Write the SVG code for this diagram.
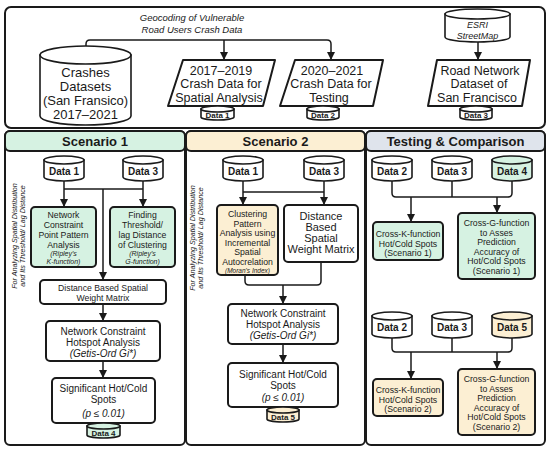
<svg xmlns="http://www.w3.org/2000/svg" width="550" height="450" viewBox="0 0 550 450">
<style>
text{font-family:"Liberation Sans",Arial,sans-serif;fill:#1a1a1a;text-anchor:middle}
.panel{fill:#fff;stroke:#1a1a1a;stroke-width:2}
.box{fill:#fff;stroke:#1a1a1a;stroke-width:2}
.g{fill:#d6f2e2}
.o{fill:#fcefd3}
.gr{fill:#dfe4ec}
.cyl{stroke:#1a1a1a;stroke-width:1.6}
.w{fill:#fff}
.con{fill:none;stroke:#1a1a1a;stroke-width:1.5}
.arr{marker-end:url(#ah)}
.hd{font-weight:bold;font-size:13px}
.dl{font-weight:bold;font-size:10px}
.ds{font-weight:bold;font-size:8px}
.t13{font-size:13px}
.t12{font-size:12.5px}
.t11{font-size:11px}
.t10{font-size:10px}
.t9{font-size:8.7px}
.it{font-style:italic}
.sm{font-size:7px;font-style:italic}
.vt{font-size:7.2px;font-style:italic}
</style>
<defs>
<marker id="ah" viewBox="0 0 10 10" refX="10" refY="5" markerWidth="8" markerHeight="9" markerUnits="userSpaceOnUse" orient="auto">
<path d="M0,0 L10,5 L0,10 z" fill="#1a1a1a"/>
</marker>
</defs>

<!-- panels -->
<g id="top-panel"><rect class="panel" x="5" y="7" width="540" height="121" rx="6"/></g>
<g id="scenario1-panel">
<rect class="panel" x="5" y="131" width="180" height="314" rx="5"/>
<rect class="panel g" x="5" y="131" width="180" height="20" rx="5"/>
<text class="hd" x="95" y="146">Scenario 1</text>
</g>
<g id="scenario2-panel">
<rect class="panel" x="186" y="131" width="179" height="314" rx="5"/>
<rect class="panel o" x="186" y="131" width="179" height="20" rx="5"/>
<text class="hd" x="275.5" y="146">Scenario 2</text>
</g>
<g id="testing-panel">
<rect class="panel" x="366" y="131" width="179" height="314" rx="5"/>
<rect class="panel gr" x="366" y="131" width="179" height="20" rx="5"/>
<text class="hd" x="455.5" y="146">Testing &amp; Comparison</text>
</g>

<!-- connectors -->
<g id="connectors">
<path class="con" d="M86,47 V44 Q86,40 90,40 H327 Q331,40 331,44 V60" marker-end="url(#ah)"/>
<path class="con arr" d="M224,40 V60"/>
<path class="con arr" d="M478,42 V60"/>
<!-- scenario 1 -->
<path class="con" d="M64,189 H143"/>
<path class="con arr" d="M64,181 V207"/>
<path class="con arr" d="M143,181 V207"/>
<path class="con arr" d="M103,189 V280"/>
<path class="con arr" d="M103,304 V321"/>
<path class="con arr" d="M103,361 V378"/>
<!-- scenario 2 -->
<path class="con" d="M243,192 H324"/>
<path class="con arr" d="M243,181 V205"/>
<path class="con arr" d="M324,181 V205"/>
<path class="con" d="M245,275 V281 Q245,285 249,285 H317 Q321,285 321,281 V262"/>
<path class="con arr" d="M283,285 V304"/>
<path class="con arr" d="M283,344 V363"/>
<!-- testing top -->
<path class="con" d="M392,181 V193 Q392,197 396,197 H508 Q512,197 512,193 V181 M452,181 V197"/>
<path class="con arr" d="M411,197 V222"/>
<path class="con arr" d="M497,197 V213"/>
<!-- testing bottom -->
<path class="con" d="M392,338 V348 Q392,352 396,352 H508 Q512,352 512,348 V338 M452,338 V352"/>
<path class="con arr" d="M411,352 V379"/>
<path class="con arr" d="M497,352 V369"/>
</g>

<!-- top row -->
<g id="geocoding-label">
<text class="it" x="192" y="21" style="font-size:9.5px">Geocoding of Vulnerable</text>
<text class="it" x="192" y="33" style="font-size:9.5px">Road Users Crash Data</text>
</g>
<g id="crashes-datasets">
<path class="cyl w" d="M40,55 V116 A45.5,9 0 0 0 131,116 V55 Z"/>
<ellipse class="cyl w" cx="85.5" cy="55" rx="45.5" ry="9"/>
<text class="t13" x="85.5" y="77">Crashes</text>
<text class="t13" x="85.5" y="91">Datasets</text>
<text class="t13" x="85.5" y="105">(San Fransico)</text>
<text class="t13" x="85.5" y="119">2017–2021</text>
</g>
<g id="crash-2017-2019">
<polygon class="box" points="183,60 275,60 263,106 168,106" stroke-linejoin="round"/>
<text class="t12" x="221" y="75">2017–2019</text>
<text class="t12" x="221" y="88">Crash Data for</text>
<text class="t12" x="219" y="102">Spatial Analysis</text>
</g>
<g id="top-data1">
<path class="cyl w" d="M201,109 V117 A16.5,3 0 0 0 234,117 V109 Z"/>
<ellipse class="cyl w" cx="217.5" cy="109" rx="16.5" ry="3"/>
<text class="ds" x="217.5" y="118">Data 1</text>
</g>
<g id="crash-2020-2021">
<polygon class="box" points="295,60 383,60 373,106 280,106" stroke-linejoin="round"/>
<text class="t12" x="332" y="75">2020–2021</text>
<text class="t12" x="331" y="88">Crash Data for</text>
<text class="t12" x="329" y="102">Testing</text>
</g>
<g id="top-data2">
<path class="cyl w" d="M307,109 V117 A16,3 0 0 0 339,117 V109 Z"/>
<ellipse class="cyl w" cx="323" cy="109" rx="16" ry="3"/>
<text class="ds" x="323" y="118">Data 2</text>
</g>
<g id="esri-streetmap">
<path class="cyl w" d="M445,14 V37 A32.5,5 0 0 0 510,37 V14 Z"/>
<ellipse class="cyl w" cx="477.5" cy="14" rx="32.5" ry="5"/>
<text class="it" x="477.5" y="28" style="font-size:9px">ESRI</text>
<text class="it" x="477.5" y="38.5" style="font-size:9px">StreetMap</text>
</g>
<g id="road-network">
<polygon class="box" points="437,60 530,60 522,106 428,106" stroke-linejoin="round"/>
<text class="t12" x="480" y="75">Road Network</text>
<text class="t12" x="479" y="88">Dataset of</text>
<text class="t12" x="477" y="102">San Francisco</text>
</g>
<g id="top-data3">
<path class="cyl w" d="M460,109 V117 A16,3 0 0 0 492,117 V109 Z"/>
<ellipse class="cyl w" cx="476" cy="109" rx="16" ry="3"/>
<text class="ds" x="476" y="118">Data 3</text>
</g>

<!-- scenario 1 -->
<g id="s1-label">
<text class="vt" transform="translate(17,236) rotate(-90)">For Analyzing Spatial Distribution</text>
<text class="vt" transform="translate(25,236) rotate(-90)">and Its Threshold/ Lag Distance</text>
</g>
<g id="s1-data1">
<path class="cyl w" d="M44,160 V177 A20,4 0 0 0 84,177 V160 Z"/>
<ellipse class="cyl w" cx="64" cy="160" rx="20" ry="4"/>
<text class="dl" x="64" y="175">Data 1</text>
</g>
<g id="s1-data3">
<path class="cyl w" d="M123,160 V177 A20,4 0 0 0 163,177 V160 Z"/>
<ellipse class="cyl w" cx="143" cy="160" rx="20" ry="4"/>
<text class="dl" x="143" y="175">Data 3</text>
</g>
<g id="s1-point-pattern">
<rect class="box g" x="31" y="207" width="65" height="60" rx="4"/>
<text class="t9" x="63.5" y="218">Network</text>
<text class="t9" x="63.5" y="228">Constraint</text>
<text class="t9" x="63.5" y="238">Point Pattern</text>
<text class="t9" x="63.5" y="248">Analysis</text>
<text class="sm" x="63.5" y="256">(Ripley's</text>
<text class="sm" x="63.5" y="264">K-function)</text>
</g>
<g id="s1-threshold">
<rect class="box g" x="110" y="207" width="65" height="60" rx="4"/>
<text class="t9" x="142.5" y="218">Finding</text>
<text class="t9" x="142.5" y="228">Threshold/</text>
<text class="t9" x="142.5" y="238">lag Distance</text>
<text class="t9" x="142.5" y="248">of Clustering</text>
<text class="sm" x="142.5" y="256">(Ripley's</text>
<text class="sm" x="142.5" y="264">G-function)</text>
</g>
<g id="s1-distance-matrix">
<rect class="box" x="40" y="280" width="126" height="24" rx="4"/>
<text class="t9" x="103" y="291">Distance Based Spatial</text>
<text class="t9" x="103" y="300.5">Weight Matrix</text>
</g>
<g id="s1-hotspot">
<rect class="box" x="46" y="321" width="114" height="40" rx="4"/>
<text class="t10" x="103" y="335">Network Constraint</text>
<text class="t10" x="103" y="346">Hotspot Analysis</text>
<text class="t10 it" x="103" y="357">(Getis-Ord Gi*)</text>
</g>
<g id="s1-significant">
<rect class="box" x="52" y="378" width="103" height="45" rx="4"/>
<text class="t10" x="103.5" y="392">Significant Hot/Cold</text>
<text class="t10" x="103.5" y="403">Spots</text>
<text class="t10 it" x="103.5" y="417">(p ≤ 0.01)</text>
</g>
<g id="s1-data4">
<path class="cyl g" d="M87,426 V435 A16.5,3 0 0 0 120,435 V426 Z"/>
<ellipse class="cyl g" cx="103.5" cy="426" rx="16.5" ry="3"/>
<text class="ds" x="103.5" y="436">Data 4</text>
</g>

<!-- scenario 2 -->
<g id="s2-label">
<text class="vt" transform="translate(195,238) rotate(-90)">For Analyzing Spatial Distribution</text>
<text class="vt" transform="translate(203,238) rotate(-90)">and Its Threshold/ Lag Distance</text>
</g>
<g id="s2-data1">
<path class="cyl w" d="M223,160 V177 A20,4 0 0 0 263,177 V160 Z"/>
<ellipse class="cyl w" cx="243" cy="160" rx="20" ry="4"/>
<text class="dl" x="243" y="175">Data 1</text>
</g>
<g id="s2-data3">
<path class="cyl w" d="M304,160 V177 A20,4 0 0 0 344,177 V160 Z"/>
<ellipse class="cyl w" cx="324" cy="160" rx="20" ry="4"/>
<text class="dl" x="324" y="175">Data 3</text>
</g>
<g id="s2-clustering">
<rect class="box o" x="217" y="205" width="61" height="70" rx="4"/>
<text class="t9" x="247.5" y="217">Clustering</text>
<text class="t9" x="247.5" y="226.5">Pattern</text>
<text class="t9" x="247.5" y="236">Analysis using</text>
<text class="t9" x="247.5" y="245.5">Incremental</text>
<text class="t9" x="247.5" y="255">Spatial</text>
<text class="t9" x="247.5" y="264.5">Autocrelation</text>
<text class="sm" x="247.5" y="273" style="font-size:6.5px">(Moran's Index)</text>
</g>
<g id="s2-distance-matrix">
<rect class="box" x="284" y="205" width="74" height="57" rx="4"/>
<text class="t11" x="321" y="220">Distance</text>
<text class="t11" x="321" y="231">Based</text>
<text class="t11" x="321" y="242">Spatial</text>
<text class="t11" x="321" y="253">Weight Matrix</text>
</g>
<g id="s2-hotspot">
<rect class="box" x="228" y="304" width="110" height="40" rx="4"/>
<text class="t10" x="283" y="317">Network Constraint</text>
<text class="t10" x="283" y="328">Hotspot Analysis</text>
<text class="t10 it" x="283" y="339">(Getis-Ord Gi*)</text>
</g>
<g id="s2-significant">
<rect class="box" x="228" y="363" width="110" height="44" rx="4"/>
<text class="t10" x="283" y="378">Significant Hot/Cold</text>
<text class="t10" x="283" y="389">Spots</text>
<text class="t10 it" x="283" y="401">(p ≤ 0.01)</text>
</g>
<g id="s2-data5">
<path class="cyl o" d="M267,410 V419 A16,3 0 0 0 299,419 V410 Z"/>
<ellipse class="cyl o" cx="283" cy="410" rx="16" ry="3"/>
<text class="ds" x="283" y="420">Data 5</text>
</g>

<!-- testing -->
<g id="t-data2a">
<path class="cyl w" d="M372,160 V177 A20,4 0 0 0 412,177 V160 Z"/>
<ellipse class="cyl w" cx="392" cy="160" rx="20" ry="4"/>
<text class="dl" x="392" y="175">Data 2</text>
</g>
<g id="t-data3a">
<path class="cyl w" d="M432,160 V177 A20,4 0 0 0 472,177 V160 Z"/>
<ellipse class="cyl w" cx="452" cy="160" rx="20" ry="4"/>
<text class="dl" x="452" y="175">Data 3</text>
</g>
<g id="t-data4">
<path class="cyl g" d="M492,160 V177 A20,4 0 0 0 532,177 V160 Z"/>
<ellipse class="cyl g" cx="512" cy="160" rx="20" ry="4"/>
<text class="dl" x="512" y="175">Data 4</text>
</g>
<g id="t-crossk1">
<rect class="box g" x="373" y="222" width="70" height="38" rx="4"/>
<text class="t9" x="408" y="237">Cross-K-function</text>
<text class="t9" x="408" y="246.5">Hot/Cold Spots</text>
<text class="t9" x="408" y="256">(Scenario 1)</text>
</g>
<g id="t-crossg1">
<rect class="box g" x="458" y="213" width="77" height="66" rx="4"/>
<text class="t9" x="496.5" y="226">Cross-G-function</text>
<text class="t9" x="496.5" y="235.5">to Asses</text>
<text class="t9" x="496.5" y="245">Prediction</text>
<text class="t9" x="496.5" y="254.5">Accuracy of</text>
<text class="t9" x="496.5" y="264">Hot/Cold Spots</text>
<text class="t9" x="496.5" y="273.5">(Scenario 1)</text>
</g>
<g id="t-data2b">
<path class="cyl w" d="M372,316 V334 A20,4 0 0 0 412,334 V316 Z"/>
<ellipse class="cyl w" cx="392" cy="316" rx="20" ry="4"/>
<text class="dl" x="392" y="331">Data 2</text>
</g>
<g id="t-data3b">
<path class="cyl w" d="M432,316 V334 A20,4 0 0 0 472,334 V316 Z"/>
<ellipse class="cyl w" cx="452" cy="316" rx="20" ry="4"/>
<text class="dl" x="452" y="331">Data 3</text>
</g>
<g id="t-data5">
<path class="cyl o" d="M492,316 V334 A20,4 0 0 0 532,334 V316 Z"/>
<ellipse class="cyl o" cx="512" cy="316" rx="20" ry="4"/>
<text class="dl" x="512" y="331">Data 5</text>
</g>
<g id="t-crossk2">
<rect class="box o" x="373" y="379" width="70" height="37" rx="4"/>
<text class="t9" x="408" y="393">Cross-K-function</text>
<text class="t9" x="408" y="402.5">Hot/Cold Spots</text>
<text class="t9" x="408" y="412">(Scenario 2)</text>
</g>
<g id="t-crossg2">
<rect class="box o" x="458" y="369" width="77" height="66" rx="4"/>
<text class="t9" x="496.5" y="382">Cross-G-function</text>
<text class="t9" x="496.5" y="391.5">to Asses</text>
<text class="t9" x="496.5" y="401">Prediction</text>
<text class="t9" x="496.5" y="410.5">Accuracy of</text>
<text class="t9" x="496.5" y="420">Hot/Cold Spots</text>
<text class="t9" x="496.5" y="429.5">(Scenario 2)</text>
</g>
</svg>
